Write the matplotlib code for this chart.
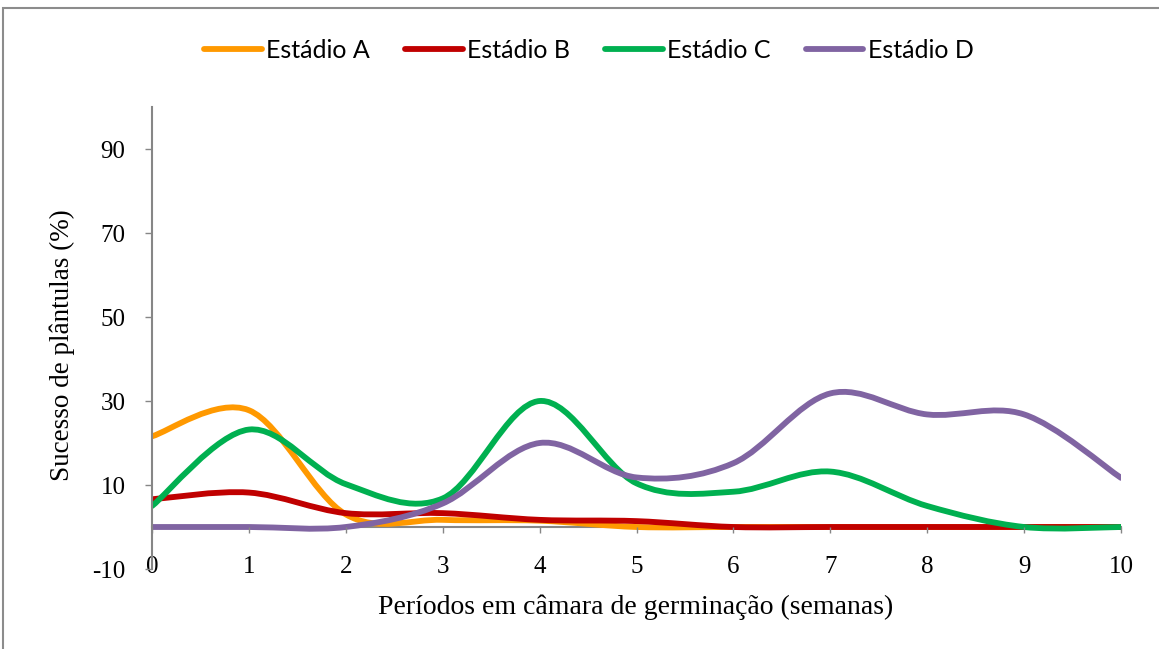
import matplotlib
matplotlib.use("Agg")
import matplotlib.pyplot as plt
from matplotlib.path import Path
from matplotlib.patches import PathPatch, Rectangle
from matplotlib.lines import Line2D
import numpy as np

weeks = [0, 1, 2, 3, 4, 5, 6, 7, 8, 9, 10]
estadio_a = [21.6, 27.8, 3.0, 1.7, 1.5, 0.0, 0.0, 0.0, 0.0, 0.0, 0.0]
estadio_b = [6.6, 8.2, 3.3, 3.3, 1.7, 1.4, 0.0, 0.0, 0.0, 0.0, 0.0]
estadio_c = [5.0, 23.2, 10.2, 6.8, 30.0, 10.4, 8.4, 13.2, 5.0, 0.0, 0.0]
estadio_d = [0.0, 0.0, 0.0, 5.6, 20.0, 11.8, 15.2, 31.8, 26.8, 26.8, 11.7]

series = [
    ("Estádio A", estadio_a, "#FF9900"),
    ("Estádio B", estadio_b, "#C00000"),
    ("Estádio C", estadio_c, "#00B050"),
    ("Estádio D", estadio_d, "#8064A2"),
]

LW = 4.2
plt.rcParams["axes.unicode_minus"] = False


def smooth_path(xs, ys):
    # Excel-style smoothed line: cubic Bezier segments, Catmull-Rom control points
    pts = np.column_stack([xs, ys]).astype(float)
    n = len(pts)
    verts = [pts[0]]
    codes = [Path.MOVETO]
    for i in range(n - 1):
        p0 = pts[i - 1] if i > 0 else pts[i]
        p1 = pts[i]
        p2 = pts[i + 1]
        p3 = pts[i + 2] if i + 2 < n else pts[i + 1]
        c1 = p1 + (p2 - p0) / 6.0
        c2 = p2 - (p3 - p1) / 6.0
        verts += [c1, c2, p2]
        codes += [Path.CURVE4] * 3
    return Path(verts, codes)


fig = plt.figure(figsize=(11.59, 6.49), dpi=100)
ax = fig.add_axes([152 / 1159, 80 / 649, (1121 - 152) / 1159, (569 - 107) / 649])

for label, vals, color in series:
    patch = PathPatch(smooth_path(weeks, vals), facecolor="none", edgecolor=color,
                      lw=LW, capstyle="round", joinstyle="round")
    ax.add_patch(patch)

ax.set_xlim(0, 10)
ax.set_ylim(-10, 100)
ax.set_yticks([-10, 10, 30, 50, 70, 90])
ax.set_xticks(weeks)

for s in ["top", "right"]:
    ax.spines[s].set_visible(False)
ax.spines["bottom"].set_position(("data", 0))
ax.spines["bottom"].set_color("#868686")
ax.spines["left"].set_color("#868686")
ax.spines["bottom"].set_linewidth(1.5)
ax.spines["left"].set_linewidth(1.5)
ax.spines["bottom"].set_zorder(0.5)

serif = "Liberation Serif"
ax.tick_params(axis="x", direction="out", length=4, width=1, color="#868686",
               pad=17, labelsize=18)
ax.tick_params(axis="y", direction="out", length=5, width=1, color="#868686",
               pad=14, labelsize=18)
for t in ax.get_xticklabels() + ax.get_yticklabels():
    t.set_fontfamily(serif)

fig.text(636 / 1159, 1 - 607 / 649, "Períodos em câmara de germinação (semanas)",
         ha="center", va="center", fontsize=20, family=serif)
fig.text(62 / 1159, 1 - 345 / 649, "Sucesso de plântulas (%)", ha="center",
         va="center", rotation=90, fontsize=19.5, family=serif)

handles = [Line2D([], [], color=c, lw=LW, solid_capstyle="round") for _, _, c in series]
fig.legend(handles, [s[0] for s in series], loc="center", bbox_to_anchor=(589 / 1159, 1 - 50 / 649),
           ncol=4, frameon=False, handlelength=2.3, handletextpad=0.18, columnspacing=1.4,
           prop={"family": "Lato", "size": 18})

fig.patches.append(Rectangle((3 / 1159, -0.05), 1.1, (649 - 8) / 649 + 0.05,
                             transform=fig.transFigure, fill=False,
                             edgecolor="#8c8c8c", lw=1.5))

fig.savefig("out.png", dpi=100)
